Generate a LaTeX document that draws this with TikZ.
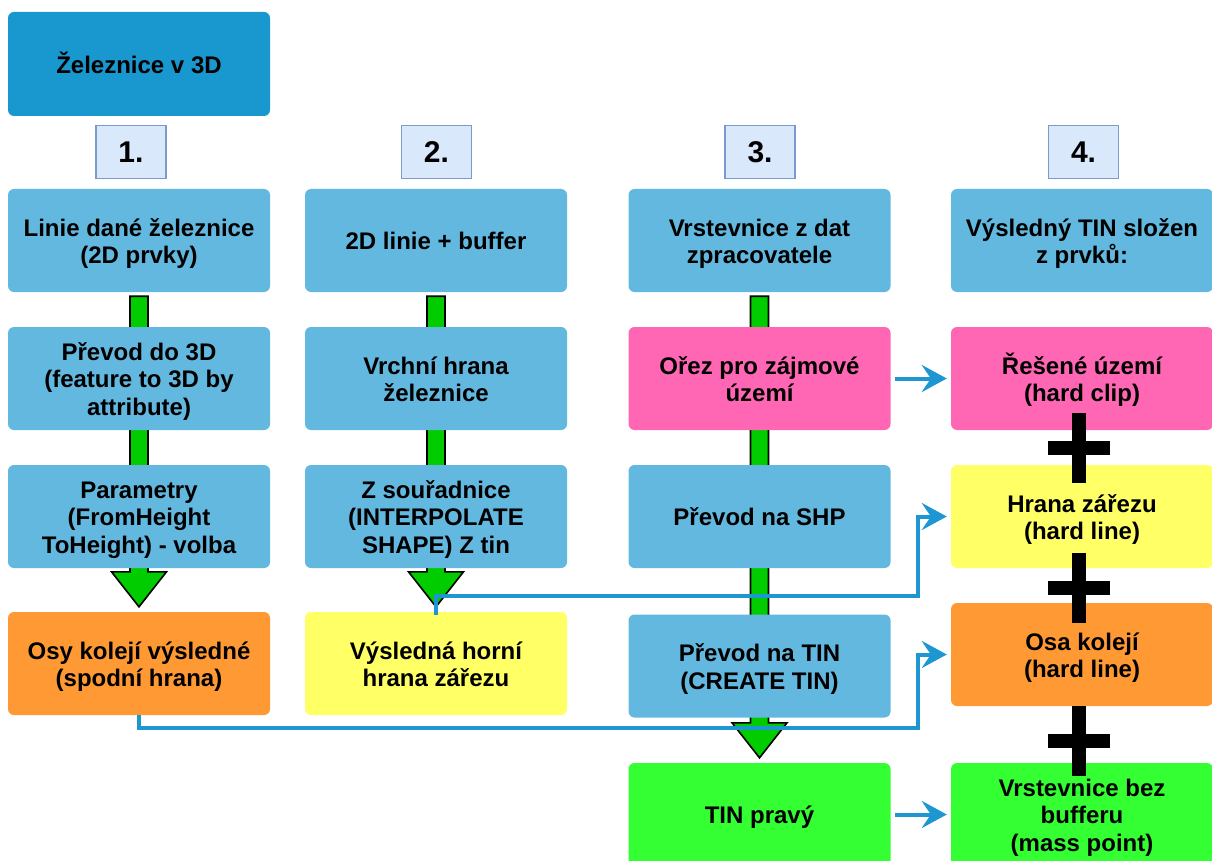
\documentclass[tikz,border=0pt]{standalone}
\usepackage{fontspec}
\setmainfont{Liberation Sans}
\usetikzlibrary{calc,arrows.meta}

\definecolor{topblue}{HTML}{1997CF}
\definecolor{stepblue}{HTML}{63B8E0}
\definecolor{numfill}{HTML}{DAE8FC}
\definecolor{numline}{HTML}{7A9CCB}
\definecolor{pinkbox}{HTML}{FF66B3}
\definecolor{yellowbox}{HTML}{FFFF66}
\definecolor{orangebox}{HTML}{FF9933}
\definecolor{greenbox}{HTML}{33FF33}
\definecolor{arrowgreen}{HTML}{00CC00}
\definecolor{linkblue}{HTML}{1E96D2}

% thick green block arrow from the bottom of one box to the top of another
\newcommand\greenarrow[2]{%
  \draw[garrow] let \p1=(#1.south), \p2=(#2.north) in
    (\x1-9pt,\y1-4pt) -- (\x1+9pt,\y1-4pt) -- (\x1+9pt,\y2+40pt)
    -- (\x1+27.5pt,\y2+40pt) -- (\x1,\y2+5pt) -- (\x1-27.5pt,\y2+40pt)
    -- (\x1-9pt,\y2+40pt) -- cycle;}

% box text: a one-column tabular with fixed struts on the first and
% last rows, so every box centres its lines the same way
\newcommand\cardlines[1]{%
  \begin{tabular}{@{}c@{}}\rule{0pt}{27pt}#1\rule[-8.25pt]{0pt}{8.25pt}\end{tabular}}

\tikzset{
  card/.style={rectangle, rounded corners=6pt, minimum width=262pt,
    minimum height=103pt, inner sep=0pt,
    font=\fontsize{24}{27.5}\selectfont\bfseries},
  stepcard/.style={card, fill=stepblue},
  numbox/.style={rectangle, draw=numline, line width=1.3pt, fill=numfill,
    minimum width=70pt, minimum height=53pt, inner sep=0pt,
    font=\fontsize{30}{32}\selectfont\bfseries},
  garrow/.style={fill=arrowgreen, draw=black, line width=1.6pt},
  conn/.style={draw=linkblue, line width=4pt},
  connarrow/.style={conn, -{Stealth[length=25pt,width=27pt,inset=9pt]}},
  crossbar/.style={fill=black, draw=none},
}

\begin{document}
\begin{tikzpicture}[x=1pt, y=-1pt]
\useasboundingbox (0,0) rectangle (1212,861);

% title
\node[card, fill=topblue, minimum height=104pt] (title) at (139,64) {\cardlines{Železnice v 3D}};

% step numbers
\node[numbox] (n1) at (131,152) {1.};
\node[numbox] (n2) at (436.5,152) {2.};
\node[numbox] (n3) at (760,152) {3.};
\node[numbox] (n4) at (1083.5,152) {4.};

% end boxes of the three processing columns
\node[stepcard] (lin1) at (139,240.5) {\cardlines{Linie dané železnice\\(2D prvky)}};
\node[card, fill=orangebox] (osy) at (139,663.5) {\cardlines{Osy kolejí výsledné\\(spodní hrana)}};
\node[stepcard] (lin2) at (436,240.5) {\cardlines{2D linie + buffer}};
\node[card, fill=yellowbox] (horni) at (436,663.5) {\cardlines{Výsledná horní\\hrana zářezu}};
\node[stepcard] (vrst) at (759.5,240.5) {\cardlines{Vrstevnice z dat\\zpracovatele}};
\node[card, fill=greenbox] (tinp) at (759.5,814.5) {\cardlines{TIN pravý}};

% green block arrows (behind the middle boxes)
\greenarrow{lin1}{osy}
\greenarrow{lin2}{horni}
\greenarrow{vrst}{tinp}

% middle boxes
\node[stepcard] (prevod3d) at (139,378.5) {\cardlines{Převod do 3D\\(feature to 3D by\\attribute)}};
\node[stepcard] (param) at (139,516.5) {\cardlines{Parametry\\(FromHeight\\ToHeight) - volba}};
\node[stepcard] (vrchni) at (436,378.5) {\cardlines{Vrchní hrana\\železnice}};
\node[stepcard] (zsour) at (436,516.5) {\cardlines{Z souřadnice\\(INTERPOLATE\\SHAPE) Z tin}};
\node[card, fill=pinkbox] (orez) at (759.5,378.5) {\cardlines{Ořez pro zájmové\\území}};
\node[stepcard] (shp) at (759.5,516.5) {\cardlines{Převod na SHP}};
\node[stepcard] (tin) at (759.5,666) {\cardlines{Převod na TIN\\(CREATE TIN)}};

% column 4
\node[stepcard] (vysl) at (1082,240.5) {\cardlines{Výsledný TIN složen\\z prvků:}};
\node[card, fill=pinkbox] (reseni) at (1082,378.5) {\cardlines{Řešené území\\(hard clip)}};
\node[card, fill=yellowbox] (hrana) at (1082,516.5) {\cardlines{Hrana zářezu\\(hard line)}};
\node[card, fill=orangebox] (osa) at (1082,654.5) {\cardlines{Osa kolejí\\(hard line)}};
\node[card, fill=greenbox] (bezbuf) at (1082,814.5) {\cardlines{Vrstevnice bez\\bufferu\\(mass point)}};

% blue connectors
\draw[connarrow] ([xshift=4pt]orez.east) -- ([xshift=-4pt]reseni.west);
\draw[connarrow] ([xshift=4pt]tinp.east) -- ([xshift=-4pt]bezbuf.west);
\draw[connarrow] ([yshift=-3pt]horni.north) -- ++(0,-19)
  -| ($(hrana.west)+(-33,0)$) -- ([xshift=-4pt]hrana.west);
\draw[connarrow] (osy.south) -- ++(0,13)
  -| ($(osa.west)+(-33,0)$) -- ([xshift=-4pt]osa.west);

% plus signs between the components of the result
\foreach \cy/\nm in {448/plusa, 588/plusb, 741/plusc}{
  \coordinate (\nm) at (1079,\cy);
  \fill[crossbar] ($(\nm)+(-7,-35)$) rectangle ($(\nm)+(7,35)$);
  \fill[crossbar] ($(\nm)+(-31,-7)$) rectangle ($(\nm)+(31,7)$);
}
\end{tikzpicture}
\end{document}
